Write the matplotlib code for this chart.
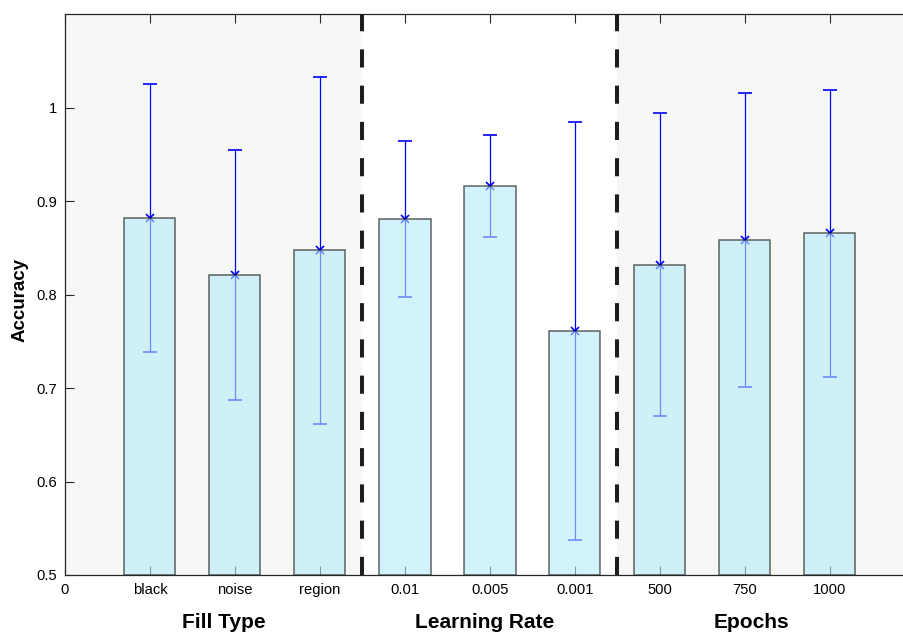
import numpy as np
import matplotlib
matplotlib.use('Agg')
import matplotlib.pyplot as plt

plt.rcParams['font.family'] = ['Liberation Sans', 'DejaVu Sans']

# Data
tick_labels = ['0', 'black', 'noise', 'region', '0.01', '0.005', '0.001', '500', '750', '1000']
accuracy = [0.882, 0.821, 0.848, 0.881, 0.916, 0.761, 0.832, 0.858, 0.866]
err_upper = [1.025, 0.955, 1.033, 0.964, 0.971, 0.984, 0.994, 1.016, 1.019]
err_lower = [0.739, 0.687, 0.662, 0.797, 0.862, 0.537, 0.670, 0.701, 0.712]
groups = ['Fill Type', 'Learning Rate', 'Epochs']
group_centers = [1.87, 4.94, 8.08]
separators = [3.5, 6.5]

W, H = 904, 634
fig = plt.figure(figsize=(W / 100, H / 100), dpi=100)
ax = fig.add_axes([65 / W, 1 - 575 / H, 850 / W, 561 / H])

x = np.arange(1, len(accuracy) + 1)
acc = np.array(accuracy)
yerr = np.vstack([acc - np.array(err_lower), np.array(err_upper) - acc])

# shaded group backgrounds
ax.axvspan(0, separators[0], color='#f6f8f5', zorder=0, lw=0)
ax.axvspan(separators[1], 10, color='#f6f8f5', zorder=0, lw=0)

# error bars under semi-transparent bars
ax.errorbar(x, acc, yerr=yerr, fmt='x', color='blue', ecolor='blue',
            elinewidth=0.9, capsize=4.7, capthick=0.9, markersize=6,
            markeredgewidth=1.2, zorder=2)
ax.bar(x, acc - 0.5, bottom=0.5, width=0.6, color='#b7ebfa',
       edgecolor='black', linewidth=1.1, alpha=0.6, zorder=3)

for s in separators:
    ax.axvline(s, color='#1e1e1e', lw=2.9, dashes=(4.5, 4.5), zorder=5)

ax.set_xlim(0, 10)
ax.set_ylim(0.5, 1.1)
ax.set_xticks(np.arange(len(tick_labels)))
ax.set_xticklabels(tick_labels)
ax.set_yticks([0.5, 0.6, 0.7, 0.8, 0.9, 1.0])
ax.set_yticklabels(['0.5', '0.6', '0.7', '0.8', '0.9', '1'])
ax.tick_params(axis='both', direction='in', length=6.5, width=0.8,
               colors='#262626', labelcolor='black', labelsize=10.6, pad=5.5)
ax.tick_params(axis='x', top=True)
ax.spines['right'].set_visible(False)
for sp in ['top', 'left', 'bottom']:
    ax.spines[sp].set_color('#262626')
    ax.spines[sp].set_linewidth(0.9)

for name, cx in zip(groups, group_centers):
    ax.text(cx, -48 / 561, name, transform=ax.get_xaxis_transform(),
            ha='center', va='center', fontsize=15, fontweight='bold')

fig.text(20 / W, 1 - 300 / H, 'Accuracy', rotation=90, ha='center',
         va='center', fontsize=13.5, fontweight='bold')

fig.savefig('out.png', dpi=100)
